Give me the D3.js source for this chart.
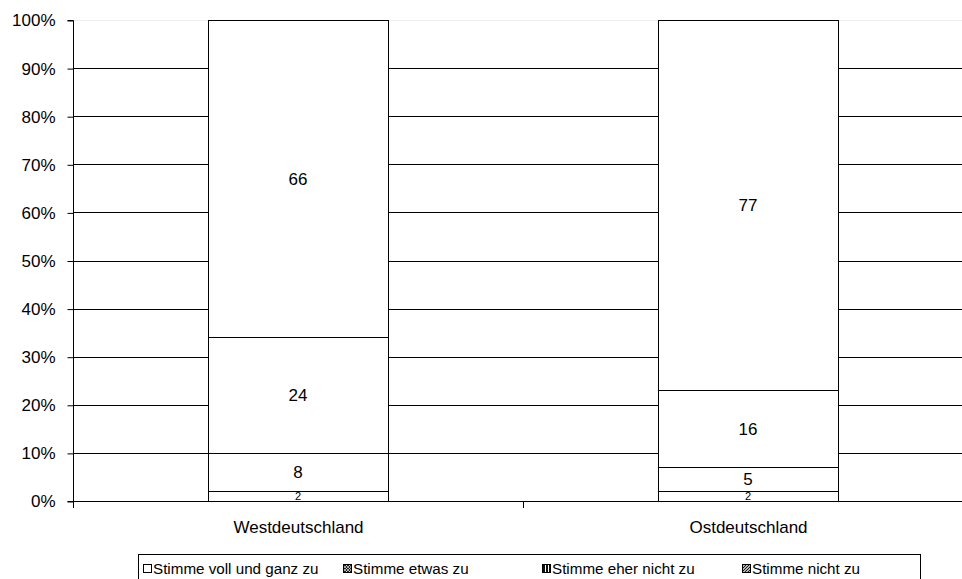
<!DOCTYPE html>
<html>
<head>
<meta charset="utf-8">
<script src="https://cdn.jsdelivr.net/npm/d3@7/dist/d3.min.js"></script>
<style>
  html, body { margin: 0; padding: 0; background: #fff; }
  svg { display: block; font-family: "Liberation Sans", Arial, sans-serif; }
</style>
</head>
<body>
<svg id="chart" width="962" height="579"></svg>
<script>
// Regions on the x axis
const categories = ["Westdeutschland", "Ostdeutschland"];
// Answer categories, stacked bottom to top
const seriesNames = ["Stimme voll und ganz zu", "Stimme etwas zu", "Stimme eher nicht zu", "Stimme nicht zu"];
// Percent values per series, one per region
const vollUndGanz = [2, 2];
const etwas = [8, 5];
const eherNicht = [24, 16];
const nicht = [66, 77];
const yTicks = [0, 10, 20, 30, 40, 50, 60, 70, 80, 90, 100];

const seriesValues = [vollUndGanz, etwas, eherNicht, nicht];
const rows = categories.map((c, i) => {
  const r = { region: c };
  seriesNames.forEach((s, k) => { r[s] = seriesValues[k][i]; });
  return r;
});
const stacked = d3.stack().keys(seriesNames)(rows);

const svg = d3.select("#chart");
const x = d3.scaleBand().domain(categories).range([73, 973]).paddingInner(0).paddingOuter(0);
const y = d3.scaleLinear().domain([0, 100]).range([501, 20]);
const barW = x.bandwidth() * 0.4;
const FONT = "Liberation Sans, Arial, sans-serif";

// defs: legend key patterns
const defs = svg.append("defs");
const pCross = defs.append("pattern").attr("id", "pCross").attr("patternUnits", "userSpaceOnUse")
  .attr("width", 3).attr("height", 3);
pCross.append("rect").attr("width", 3).attr("height", 3).attr("fill", "#222");
pCross.append("path").attr("d", "M0,0L3,3M3,0L0,3").attr("stroke", "#fff").attr("stroke-width", 0.6);
const pVert = defs.append("pattern").attr("id", "pVert").attr("patternUnits", "userSpaceOnUse")
  .attr("width", 3).attr("height", 3);
pVert.append("rect").attr("width", 3).attr("height", 3).attr("fill", "#111");
pVert.append("rect").attr("x", 2).attr("width", 1).attr("height", 3).attr("fill", "#fff");
const pDiag = defs.append("pattern").attr("id", "pDiag").attr("patternUnits", "userSpaceOnUse")
  .attr("width", 3).attr("height", 3);
pDiag.append("rect").attr("width", 3).attr("height", 3).attr("fill", "#fff");
pDiag.append("path").attr("d", "M-1,1L1,-1M0,3L3,0M2,4L4,2").attr("stroke", "#111").attr("stroke-width", 1.2);

// horizontal gridlines
svg.append("g").selectAll("line").data(yTicks.filter(t => t > 0)).join("line")
  .attr("x1", 73).attr("x2", 962)
  .attr("y1", d => Math.round(y(d)) + 0.5).attr("y2", d => Math.round(y(d)) + 0.5)
  .attr("stroke", d => d === 100 ? "#eeeeee" : "#000").attr("stroke-width", 1);

// y axis
const yAxis = svg.append("g").attr("transform", "translate(73.5,0.5)")
  .call(d3.axisLeft(y).tickValues(yTicks).tickFormat(d => d + "%").tickSize(6).tickPadding(12));
yAxis.select(".domain").attr("d", `M-6,${y(100)}H0V${y(0)}H-6`);
yAxis.selectAll("text").attr("font-size", 17).attr("font-family", FONT).attr("fill", "#000");

// x axis line and category ticks
const xAxis = svg.append("g").attr("transform", `translate(0.5,${Math.round(y(0)) + 0.5})`)
  .call(d3.axisBottom(x).tickSize(0).tickPadding(19));
xAxis.select(".domain").remove();
xAxis.selectAll("text").attr("font-size", 17).attr("font-family", FONT).attr("fill", "#000");
svg.append("line").attr("x1", 73).attr("x2", 962)
  .attr("y1", Math.round(y(0)) + 0.5).attr("y2", Math.round(y(0)) + 0.5).attr("stroke", "#000");
svg.append("g").selectAll("line").data([73, 523]).join("line")
  .attr("x1", d => d + 0.5).attr("x2", d => d + 0.5)
  .attr("y1", Math.round(y(0))).attr("y2", Math.round(y(0)) + 7).attr("stroke", "#000");

// stacked bars (all segments white)
const barX = c => x(c) + (x.bandwidth() - barW) / 2;
const layers = svg.append("g").selectAll("g").data(stacked).join("g");
layers.selectAll("rect").data(d => d).join("rect")
  .attr("x", d => Math.round(barX(d.data.region)) + 0.5)
  .attr("y", d => Math.round(y(d[1])) + 0.5)
  .attr("width", Math.round(barW))
  .attr("height", d => Math.round(y(d[0])) - Math.round(y(d[1])))
  .attr("fill", "#fff").attr("stroke", "#000").attr("stroke-width", 1);

// value labels
layers.each(function (layer) {
  d3.select(this).selectAll("text").data(layer).join("text")
    .attr("x", d => x(d.data.region) + x.bandwidth() / 2)
    .attr("y", d => y((d[0] + d[1]) / 2))
    .attr("dy", "0.36em")
    .attr("text-anchor", "middle")
    .attr("font-size", d => (d[1] - d[0]) < 4 ? 11 : 17)
    .attr("fill", "#000")
    .text(d => d[1] - d[0]);
});

// legend
const legend = svg.append("g");
legend.append("rect").attr("x", 138.5).attr("y", 554.5).attr("width", 782).attr("height", 40)
  .attr("fill", "#fff").attr("stroke", "#000");
const keyFills = ["#fff", "url(#pCross)", "url(#pVert)", "url(#pDiag)"];
const keyX = [143, 343, 542, 742];
seriesNames.forEach((s, i) => {
  legend.append("rect").attr("x", keyX[i] + 0.5).attr("y", 564.5).attr("width", 8).attr("height", 8)
    .attr("fill", keyFills[i]).attr("stroke", "#000");
  legend.append("text").attr("x", keyX[i] + 10).attr("y", 574).attr("font-size", 15.2)
    .attr("fill", "#000").text(s);
});
</script>
</body>
</html>
